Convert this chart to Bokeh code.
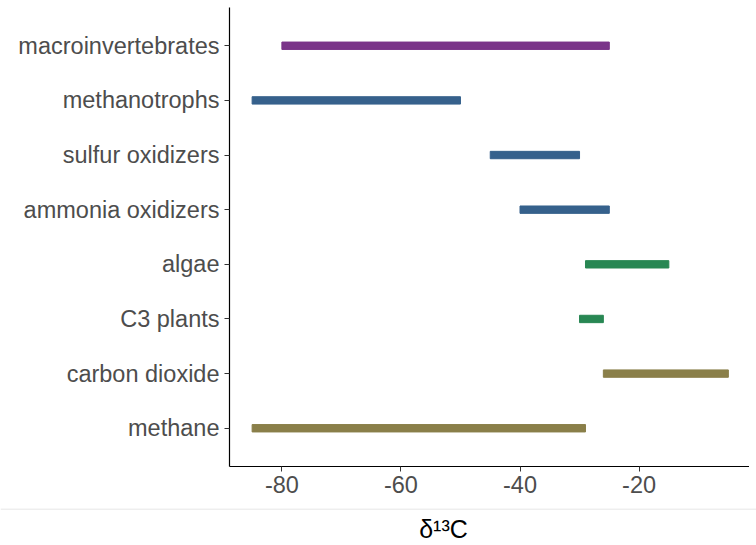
from bokeh.plotting import figure
from bokeh.models import ColumnDataSource, FactorRange, Range1d, FixedTicker, Label, Span
from bokeh.embed import file_html
from bokeh.resources import INLINE

# ---- data (top to bottom as in the chart) ----
categories = ["macroinvertebrates", "methanotrophs", "sulfur oxidizers", "ammonia oxidizers",
              "algae", "C3 plants", "carbon dioxide", "methane"]
range_low = [-80, -85, -45, -40, -29, -30, -26, -85]
range_high = [-25, -50, -30, -25, -15, -26, -5, -29]
group = ["animals", "microbes", "microbes", "microbes", "plants", "plants", "gases", "gases"]
group_colors = {"animals": "#7A3489", "microbes": "#36618C", "plants": "#288753", "gases": "#8A7F49"}
x_ticks = [-80, -60, -40, -20]
x_tick_labels = ["-80", "-60", "-40", "-20"]
x_label = "δ¹³C"

FONT = "Liberation Sans"

src = ColumnDataSource(dict(
    cat=categories,
    lo=range_low,
    hi=range_high,
    color=[group_colors[g] for g in group],
))

p = figure(width=749, height=508,
           y_range=FactorRange(factors=categories[::-1], range_padding=0.2,
                               range_padding_units="absolute"),
           x_range=Range1d(-88.8, -1.45),
           output_backend="svg", toolbar_location=None,
           min_border_left=229, min_border_right=0, min_border_top=7, min_border_bottom=42)

p.hbar(y="cat", left="lo", right="hi", height=0.135, color="color", source=src)

p.xgrid.visible = False
p.ygrid.visible = False
p.outline_line_color = None
p.background_fill_color = "white"
p.border_fill_color = "white"

for ax in (p.xaxis[0], p.yaxis[0]):
    ax.axis_line_color = "black"
    ax.axis_line_width = 1.2
    ax.major_tick_line_color = "#333333"
    ax.major_tick_out = 5
    ax.major_tick_in = 0
    ax.minor_tick_line_color = None
    ax.major_label_text_font = FONT
    ax.major_label_text_font_size = "23.5px"
    ax.major_label_text_color = "#4D4D4D"

p.xaxis.ticker = FixedTicker(ticks=x_ticks)
p.xaxis.major_label_overrides = {t: s for t, s in zip(x_ticks, x_tick_labels)}
p.xaxis.major_label_standoff = 4
p.yaxis.major_label_standoff = 5

# lower strip with separator line and axis title
p2 = figure(width=756, height=37, x_range=Range1d(0, 756), y_range=Range1d(0, 37),
            x_axis_type=None, y_axis_type=None, output_backend="svg", toolbar_location=None,
            min_border=0)
p2.xgrid.visible = False
p2.ygrid.visible = False
p2.outline_line_color = None
p2.add_layout(Span(location=36.5, dimension="width", line_color="#DDDDDD", line_width=1))
p2.add_layout(Label(x=443, y=17, text=x_label, text_align="center", text_baseline="middle",
                    text_font=FONT, text_font_size="25px", text_color="black"))

open("out.html", "w").write(file_html([p, p2], INLINE))
